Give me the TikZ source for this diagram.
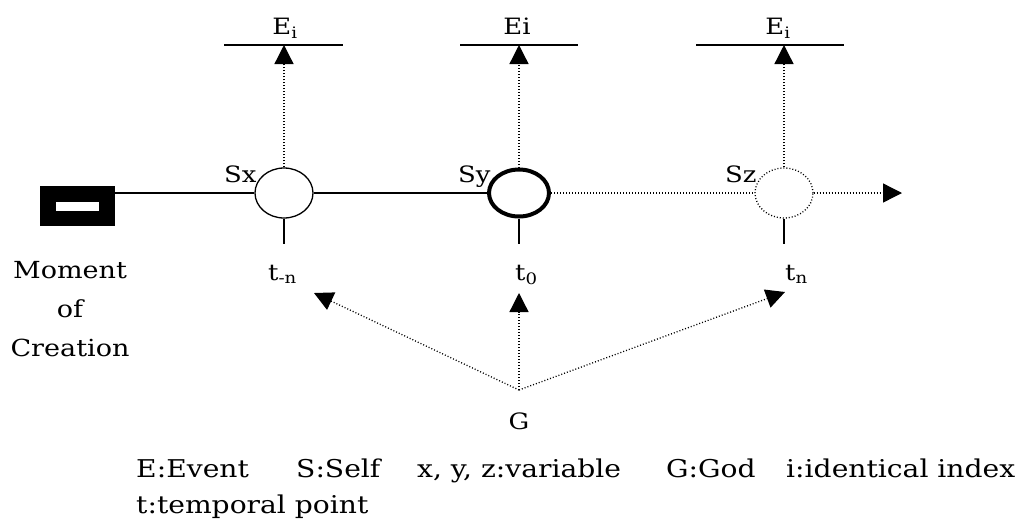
\documentclass[tikz,border=0pt]{standalone}
\usepackage{fontspec}
\setmainfont{DejaVu Serif}[FakeStretch=1.15]
\usetikzlibrary{positioning,arrows.meta,shapes.geometric}
\tikzset{
  originBox/.style={fill=black, draw=none, minimum width=75pt, minimum height=40pt, inner sep=0pt},
  originBar/.style={fill=white, draw=none, minimum width=43pt, minimum height=9pt, inner sep=0pt},
  selfNode/.style={draw, ellipse, fill=white, line width=1.3pt, minimum width=58pt,
                   minimum height=50pt, inner sep=0pt},
  selfNow/.style={selfNode, line width=4pt, minimum width=60pt, minimum height=47pt},
  selfLater/.style={selfNode, line width=1.3pt, dash pattern=on 1pt off 2pt},
  solidLn/.style={line width=1.3pt},
  flowDot/.style={line width=1.3pt, dash pattern=on 1pt off 2pt},
  tipArrow/.style={-{Triangle[length=19pt,width=19pt]}},
  lbl/.style={font=\fontsize{22.5}{26}\selectfont, inner sep=0pt},
  sideLbl/.style={font=\fontsize{23.5}{39}\selectfont, inner sep=0pt, align=center},
  legendTxt/.style={font=\fontsize{24.5}{30}\selectfont, inner sep=0pt, anchor=base west},
}
\begin{document}
\begin{tikzpicture}[x=1pt,y=-1pt]
\useasboundingbox (0,0) rectangle (1022,531);

% ========== MOMENT OF CREATION ==========
\node[originBox] (origin) at (77.5,206) {};
\node[originBar] (originBar) at (77.5,206.5) {};
% base anchor of a multi-line node sits on its last line
\node[sideLbl, anchor=base] (creation) at (70,356)
  {Moment\\of\\Creation};

% ========== SELVES ON THE TIME LINE ==========
\node[selfNode] (Sx) at (284,193) {};
\node[selfNow] (Sy) at (519,193) {};
\node[selfLater] (Sz) at (784,193) {};
\coordinate (future) at (902,193);

\draw[solidLn] (origin.east |- Sx.west) -- (Sx.west);
\draw[solidLn] (Sx.east) -- (Sy.west);
\draw[flowDot] (Sy.east) -- (Sz.west);
\draw[flowDot, tipArrow] (Sz.east) -- (future);

\node[lbl, anchor=base west] (SxLbl) at (224,182) {Sx};
\node[lbl, anchor=base west] (SyLbl) at (458,182) {Sy};
\node[lbl, anchor=base west] (SzLbl) at (725,182) {Sz};

% events above, temporal points below
\foreach \s/\ev/\xl/\xr/\xe/\tp/\xt in {
    Sx/E\textsubscript{i}/224/343/285/t\textsubscript{-n}/268,
    Sy/Ei/460/578/517/t\textsubscript{0}/515,
    Sz/E\textsubscript{i}/696/844/778/t\textsubscript{n}/785} {
  \coordinate (\s barL) at (\xl,45);
  \coordinate (\s barR) at (\xr,45);
  \draw[solidLn] (\s barL) -- (\s barR);
  \node[lbl, anchor=base] (\s ev) at (\xe,34) {\ev};
  \draw[flowDot, tipArrow] (\s.north) -- (\s.north |- \s barL);
  \draw[solidLn] (\s.south) -- ++(0,25);
  \node[lbl, anchor=base west] (\s tp) at (\xt,280) {\tp};
}

% ========== GOD ==========
\coordinate (gsrc) at (519,390);
\node[lbl, anchor=base] (G) at (519,429) {G};
\coordinate (tipL) at (314,293);
\coordinate (tipC) at (519,293);
\coordinate (tipR) at (785,292);
\foreach \t in {tipL,tipC,tipR}
  \draw[flowDot, tipArrow] (gsrc) -- (\t);

% ========== LEGEND ==========
\node[legendTxt] (lgE) at (136,477) {E:Event};
\node[legendTxt] (lgS) at (296,477) {S:Self};
\node[legendTxt] (lgX) at (417,477) {x, y, z:variable};
\node[legendTxt] (lgG) at (666,477) {G:God};
\node[legendTxt] (lgI) at (786,477) {i:identical index};
\node[legendTxt] (lgT) at (136,513) {t:temporal point};

\end{tikzpicture}
\end{document}
